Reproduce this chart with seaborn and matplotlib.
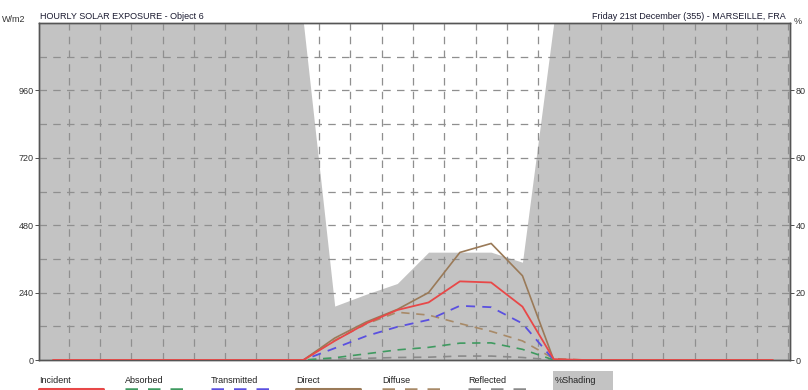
import matplotlib
matplotlib.use("Agg")
import matplotlib.pyplot as plt
import seaborn as sns
import pandas as pd
from matplotlib.lines import Line2D
from matplotlib.patches import Rectangle

# Hourly values (W/m2), hours 00..23
hours = list(range(24))
incident = [0]*8 + [0, 68, 130, 178, 205, 280, 276, 190, 3] + [0]*7
absorbed = [0]*8 + [0, 8, 22, 36, 45, 60, 61, 38, 0] + [0]*7
transmitted = [0]*8 + [0, 42, 85, 118, 143, 193, 188, 130, 0] + [0]*7
direct = [0]*8 + [0, 78, 135, 180, 240, 383, 415, 300, 0] + [0]*7
diffuse = [0]*8 + [0, 70, 128, 170, 160, 130, 102, 68, 5] + [0]*7
reflected = [0]*8 + [0, 3, 6, 9, 10, 14, 14, 9, 0] + [0]*7
# percentage of the object in shade
shading = [100]*9 + [16, 19.5, 22.7, 32, 32, 32, 29] + [100]*8

left_ticks = [0, 240, 480, 720, 960]
right_ticks = [0, 20, 40, 60, 80]
x_labels = ["00", "02", "04", "06", "08", "10", "12", "14", "16", "18", "20", "22"]

df = pd.DataFrame({
    "hour": hours,
    "Incident": incident,
    "Absorbed": absorbed,
    "Transmitted": transmitted,
    "Direct": direct,
    "Diffuse": diffuse,
    "Reflected": reflected,
})

series_style = {
    "Reflected": ("#8a8a8a", (0, (5, 4)), 1.2),
    "Absorbed": ("#3f9a60", (0, (5, 4)), 1.2),
    "Diffuse": ("#a88a68", (0, (5, 4)), 1.2),
    "Transmitted": ("#5a50e0", (0, (5, 4)), 1.3),
    "Direct": ("#9a7a58", "-", 1.2),
    "Incident": ("#e84848", "-", 1.3),
}

sns.set_style("white")
plt.rcParams["font.family"] = ["Liberation Sans", "DejaVu Sans"]
plt.rcParams["font.size"] = 6.5

fig = plt.figure(figsize=(8.08, 3.9), dpi=100)
W, H = 808, 390
x0, x1, y0, y1 = 39, 790, 23, 360
ax2 = fig.add_axes([x0 / W, 1 - y1 / H, (x1 - x0) / W, (y1 - y0) / H])
ax = ax2.twinx()
ax.set_zorder(ax2.get_zorder() + 1)
ax.patch.set_visible(False)

# shading: grey background, white where the object is not fully shaded
ax2.set_facecolor("#c3c3c3")
ax2.fill_between(hours, shading, 100, color="white", lw=0)
ax2.set_ylim(0, 100)
ax2.set_xlim(-0.45, 23.55)
ax2.yaxis.tick_right()
ax.yaxis.tick_left()
ax.yaxis.set_label_position("left")

ax.set_ylim(0, 1200)
ax.set_xlim(-0.45, 23.55)

# dashed grid
for v in range(120, 1200, 120):
    ax.axhline(v, color="#8f8f8f", lw=0.9, ls=(0, (6, 5)), zorder=1)
for h in hours:
    ax.axvline(h + 0.5, color="#8f8f8f", lw=0.9, ls=(0, (6, 5)), zorder=1)

for name in ["Reflected", "Absorbed", "Diffuse", "Transmitted", "Direct", "Incident"]:
    c, ls, lw = series_style[name]
    sns.lineplot(data=df, x="hour", y=name, ax=ax, color=c, lw=lw, zorder=3)
    ax.lines[-1].set_linestyle(ls)

ax.set_xlabel("")
ax.set_ylabel("")
ax.set_yticks(left_ticks)
ax.set_yticklabels([str(t) for t in left_ticks])
ax2.set_yticks(right_ticks)
ax2.set_yticklabels([str(t) for t in right_ticks])
ax.set_xticks(range(0, 24, 2))
ax.set_xticklabels(x_labels)
ax.set_xticks(range(1, 24, 2), minor=True)
ax2.set_xticks([])

ax.tick_params(axis="y", length=3, width=0.6, pad=1, colors="#333333", labelsize=6.5)
ax2.tick_params(axis="y", length=3, width=0.6, pad=1, colors="#333333", labelsize=6.5)
ax.tick_params(axis="x", which="both", length=3, width=0.6, pad=2, direction="inout",
               colors="#333333", labelsize=6.5)

for a in (ax, ax2):
    for s in a.spines.values():
        s.set_color("#555555")
        s.set_linewidth(1.0)

# header texts
fig.text(40 / W, 1 - 19 / H, "HOURLY SOLAR EXPOSURE - Object 6", fontsize=6.5,
         color="#1a1a30", ha="left", va="baseline")
fig.text(2 / W, 1 - 22 / H, "W/m2", fontsize=6.5, color="#333333", ha="left", va="baseline")
fig.text(786 / W, 1 - 19 / H, "Friday 21st December (355) - MARSEILLE, FRA", fontsize=6.5,
         color="#1a1a30", ha="right", va="baseline")
fig.text(794 / W, 1 - 24 / H, "%", fontsize=6.5, color="#333333", ha="left", va="baseline")

# legend drawn below the axes
legend_names = ["Incident", "Absorbed", "Transmitted", "Direct", "Diffuse", "Reflected"]
for i, name in enumerate(legend_names):
    lx = 39 + i * 85.8
    c, ls, lw = series_style[name]
    fig.text(lx / W, 1 - 383 / H, name, fontsize=6.5, color="#222222", ha="left", va="baseline")
    fig.add_artist(Line2D([lx / W, (lx + 64) / W], [1 - 388.5 / H] * 2, color=c,
                          ls=ls, lw=2.2 if ls == "-" else 1.8, transform=fig.transFigure))
fig.add_artist(Rectangle((553 / W, 0), 60 / W, 19 / H, transform=fig.transFigure,
                         color="#c3c3c3", lw=0))
fig.text(555 / W, 1 - 383 / H, "%Shading", fontsize=6.5, color="#222222", ha="left", va="baseline")

fig.savefig("out.png", dpi=100)
